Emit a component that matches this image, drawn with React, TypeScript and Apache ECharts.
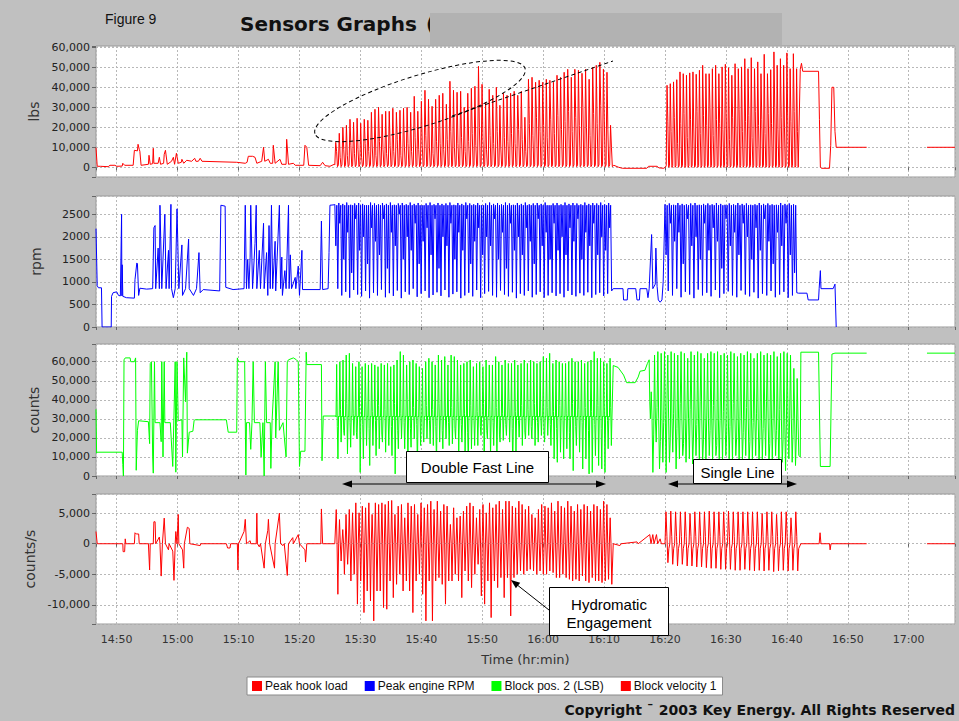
import React, { useEffect, useRef } from "react";
import * as echarts from "echarts";

// ---------- axes ----------
const X_MIN = 886.6; // minutes after midnight (14:46.6)
const X_MAX = 1027.6; // 17:07.6
const SERIES_NAMES = ["Peak hook load", "Peak engine RPM", "Block pos. 2 (LSB)", "Block velocity 1"];
const AXIS_NAMES = ["lbs", "rpm", "counts", "counts/s"];
const Y_MIN = [-4860, 0, 0, -13150];
const Y_MAX = [60650, 2905, 69300, 8150];
const Y_STEP = [10000, 500, 10000, 5000];

type Pt = [number, number | string];

// ---------- Peak hook load (lbs) ----------
const hookEarly: Pt[] = [[886.6,9800],[886.8,500],[887.3,500],[888.6,300],[888.9,1000],[889.7,1000],[890.0,500],[890.9,600],[891.0,2000],[891.3,1000],[892.7,1000],[892.9,8500],[893.4,8200],[893.5,11500],[893.7,9000],[893.8,8000],[894.0,1000],[895.2,1500],[895.3,6000],[895.5,1500],[895.9,1800],[896.0,9500],[896.1,2000],[896.8,2000],[897.0,5000],[897.2,1500],[897.7,2000],[897.8,6500],[898.0,8500],[898.3,1500],[899.0,3000],[899.3,5000],[899.5,1500],[899.8,7000],[900.1,2000],[900.6,2500],[900.7,4000],[901.0,2000],[901.5,3500],[902.3,3000],[902.8,4500],[903.0,3000],[903.4,3000],[903.7,4500],[904.0,3000],[909.7,2500],[911.1,2000],[911.4,2500],[911.6,5500],[912.3,5500],[912.7,5000],[913.0,2000],[913.8,3000],[914.1,10000],[914.3,3000],[914.9,4000],[915.2,2000],[915.6,2000],[915.7,11000],[916.0,2000],[916.8,4000],[917.1,1500],[917.8,1500],[917.9,14000],[918.2,1500],[919.0,2000],[919.3,1000],[920.7,1000],[920.9,11000],[921.2,10000],[921.5,1000],[923.4,800],[923.8,2500],[924.2,800],[925.0,500],[925.7,1500]];
const hookPeaks1 = [12500,17000,20000,21000,24000,22500,24500,22000,24000,23500,27500,29000,30000,26500,28000,28000,29500,27500,28500,29500,30000,27500,35500,28000,33000,38500,34000,30500,34000,36000,37000,31500,43000,38500,37500,38000,30000,37000,39500,40500,50500,41500,32500,39000,36000,40000,31000,37000,36000,37000,38000,36000,38000,25000,44000,45000,42500,43500,42500,44000,43500,42500,46000,45000,47500,49000,45000,49000,48500,47000,49000,44000,50000,51000,52500,49000,47500,21000];
const hookMids1 = [8000,5000,9000,6000,11000,7000,9000,5000,12000,8000,10000,6000,13000,9000,7000,11000,8000,14000,6000,10000,12000,8000,15000,9000,11000,16000,10000,7000,13000,12000,9000,14000,18000,10000,12000,15000,8000,13000,17000,11000,20000,14000,9000,16000,12000,18000,10000,15000,13000,17000,12000,19000,14000,8000,22000,16000,25000,18000,21000,15000,24000,17000,26000,19000,23000,28000,18000,25000,21000,30000,20000,16000,27000,22000,31000,24000,19000,10000];
const hookGap: Pt[] = [[971.6,1000],[972.4,0],[973.0,-500],[977.0,-500],[977.3,500],[978.7,500],[979.0,-300],[979.8,-500],[980.1,200]];
const hookPeaks2 = [41000,41800,42700,43800,47700,46800,46000,47200,47700,46500,48500,51000,46800,46800,49300,51000,46800,50200,51500,49800,46000,51800,49300,50200,54300,49300,54800,49300,52700,46800,56500,46800,48800,57700,51000,54300,51000,57200,49300,56800,49300];
const hookMids2 = [23000,18000,25000,12000,22000,27000,15000,24000,20000,28000,17000,26000,21000,30000,16000,24000,22000,19000,27000,14000,25000,20000,29000,18000,23000,26000,15000,28000,21000,24000,17000,27000,22000,30000,19000,25000,20000,26000,23000,28000,18000];
const hookTail: Pt[] = [[1002.2,49000],[1002.4,52000],[1002.6,48000],[1005.2,48000],[1005.35,24000],[1005.5,0],[1005.7,-500],[1007.0,-500],[1007.2,11000],[1007.4,40000],[1007.7,40000],[1007.9,18000],[1008.1,10000],[1013.1,10000],[1018,"-"],[1023.0,10000],[1027.6,10000]];

// ---------- Peak engine RPM ----------
const rpmEarly: Pt[] = [[886.6,2180],[886.7,2180],[886.8,915],[887.0,870],[887.5,870],[887.6,0],[889.1,0],[889.15,680],[889.4,760],[890.0,780],[890.3,700],[890.6,690],[890.8,2500],[890.85,690],[890.9,1380],[891.0,680],[891.6,650],[892.9,640],[893.0,1050],[893.3,1420],[893.4,1400],[893.6,700],[893.8,860],[894.9,840],[895.9,850],[896.1,2200],[896.3,2250],[896.4,850],[896.8,1750],[897.0,850],[897.1,2700],[897.3,1500],[897.4,850],[897.9,2500],[898.1,850],[898.5,1700],[898.6,850],[898.9,2720],[899.0,850],[899.3,650],[899.6,850],[899.9,2620],[900.2,850],[900.7,1820],[900.8,700],[901.3,850],[901.8,1950],[901.9,850],[902.6,700],[903.1,850],[903.5,1650],[903.7,760],[904.2,830],[906.9,800],[907.1,2700],[907.8,2680],[907.9,880],[909.1,830],[910.9,850],[911.1,2700],[911.3,850],[911.5,1500],[911.7,850],[911.9,1550],[912.0,2700],[912.3,850],[912.7,1850],[912.9,2700],[913.0,850],[913.4,1700],[913.6,850],[914.1,2300],[914.2,850],[914.6,1650],[914.8,700],[915.0,2250],[915.2,850],[915.4,2700],[915.6,850],[916.0,1900],[916.1,800],[916.7,2700],[916.9,850],[917.1,1550],[917.2,700],[917.6,1250],[917.8,850],[918.2,2700],[918.3,850],[918.5,1600],[918.7,850],[919.3,1100],[919.4,850],[919.8,1350],[920.0,700],[920.4,1700],[920.5,830],[923.4,830],[923.6,2350],[923.8,830],[924.7,850],[924.85,1650],[925.0,2700],[925.7,2710]];
const rpmHi1 = [2720,2750,2730,2760,2710,2740,2750,2730,2700,2760,2740,2720,2750,2730,2760,2710,2740,2750,2720,2760,2730,2750,2700,2740,2760,2720,2750,2730,2740,2760,2710,2750,2730,2760,2740,2720,2750,2700,2740,2760,2730,2750,2720,2760,2740,2710,2750,2730,2760,2720,2740,2750,2730,2760,2700,2740,2750,2720,2760,2730,2750,2740,2720,2760,2730,2750,2740,2760,2720,2750];
const rpmMid1 = [1800,2300,1500,2100,1200,2400,1700,2000,1400,2200,1900,1600,2400,1300,2100,1800,2500,1500,2000,1700,2300,1400,1900,2200,1600,2400,1300,2000,1800,2300,1500,2100,1700,2400,1400,1900,2200,1600,2000,1800,2400,1500,2100,1300,2300,1700,2000,1600,2200,1900,1400,2400,1800,2100,1500,2300,1700,2000,1600,2200,1900,2400,1500,2100,1800,2300,1600,2000,1700,2200];
const rpmLo1 = [850,700,780,650,820,720,680,800,640,760,700,830,660,750,690,810,640,780,720,850,670,740,800,650,710,770,690,820,660,730,780,640,700,760,680,820,650,740,790,700,660,810,720,680,770,640,740,700,800,660,720,780,650,700,760,690,740,660,800,710,680,750,700,770,650,720,760,690,740,800];
const rpmGap: Pt[] = [[971.5,850],[973.1,850],[973.2,600],[973.8,600],[973.9,850],[975.2,850],[975.4,600],[975.8,600],[975.9,850],[977.0,850],[977.2,650],[977.4,850],[977.8,2050],[978.0,850],[978.4,950],[978.5,1750],[978.7,900],[978.9,600],[979.2,550],[979.5,600],[979.7,1000]];
const rpmHi2 = [2720,2740,2710,2750,2730,2720,2740,2750,2710,2730,2740,2720,2750,2730,2710,2740,2720,2750,2730,2740,2710,2720,2750,2730,2740,2720,2710,2750,2730,2740,2720];
const rpmMid2 = [1600,2300,1900,2100,1400,2400,1800,2000,1500,2300,1700,2200,1900,1300,2400,1800,2100,1600,2300,2000,1500,2200,1700,2400,1900,1400,2100,1800,2300,1600,1200];
const rpmLo2 = [800,700,850,660,780,720,640,830,700,760,680,820,650,740,790,700,660,810,720,680,770,640,740,700,800,660,720,780,650,700,760];
const rpmTail: Pt[] = [[1001.9,750],[1003.3,750],[1003.5,600],[1005.2,600],[1005.3,850],[1005.5,1250],[1005.6,850],[1007.6,850],[1007.9,950],[1008.1,0]];

// ---------- Block pos. 2 (counts) ----------
const cntEarly: Pt[] = [[886.6,35000],[886.7,12000],[886.8,12500],[890.9,12500],[891.0,6000],[891.1,0],[891.2,61000],[891.4,62000],[892.2,62000],[892.3,60000],[892.9,60000],[893.1,62000],[893.2,3000],[893.4,24000],[893.6,29000],[895.2,28500],[895.4,17000],[895.5,59000],[895.7,60000],[895.9,10000],[896.0,1500],[896.2,60000],[896.3,28000],[897.1,28000],[897.3,18000],[897.4,60000],[897.6,10000],[897.8,60000],[897.9,28000],[898.8,28000],[899.2,5000],[899.4,32000],[899.6,60000],[899.7,2000],[899.9,60000],[900.1,29000],[900.7,29500],[900.8,10000],[901.0,62000],[901.3,39000],[901.5,65000],[901.6,12000],[901.9,23000],[902.5,23500],[902.7,29000],[902.8,29500],[908.0,29500],[908.3,23000],[909.7,23000],[909.8,62000],[910.0,60000],[911.0,60000],[911.2,500],[911.3,28000],[911.8,28000],[912.0,14000],[912.2,28000],[912.4,60000],[912.6,28000],[913.5,28000],[913.7,10000],[914.0,28000],[914.2,0],[914.4,60000],[914.6,28000],[915.2,28000],[915.3,4000],[915.5,29000],[916.0,60000],[916.1,20000],[916.5,60000],[916.7,24000],[917.3,28000],[917.8,10000],[918.0,60000],[918.2,61000],[919.0,62000],[919.5,61000],[919.8,60000],[920.0,5000],[920.2,13000],[920.9,13000],[921.1,65000],[921.2,58500],[923.6,58500],[923.7,8000],[923.9,31500],[926.0,31500]];
const cntUps1 = [58600,60000,60900,63500,64400,59100,57400,60000,57400,59100,58300,59100,58300,57400,59100,58300,59100,57400,58300,60900,65300,63500,58300,60000,60900,59100,57400,56500,60000,61800,60000,58300,63500,60900,62700,58300,63500,62700,60900,58300,59100,60000,60900,57400,59100,60000,57400,60900,58300,58300,62700,60000,58300,60900,59100,59100,60900,58300,59100,60900,59100,60900,60000,59100,60000,62700,61800,64400,59100,60900,60000,59100,59100,60000,61800,60000,60000,60900,59100,60000,60900,65300,61800,61800,60000,59100,61800];
const cntDowns1 = [9000,17800,21300,11600,15100,21300,19500,1900,9000,16000,5500,16000,10700,14300,17800,12500,16000,10700,1100,14300,19500,14300,3700,15100,19500,3700,16000,17800,19500,16900,16000,5500,17800,14300,19500,16000,16900,19500,12500,17800,12500,7200,14300,16000,16000,21300,4600,19500,10700,16000,9000,17800,18700,21300,17800,4600,12500,20400,16000,19500,21300,19500,16000,17800,21300,17800,21300,16000,9000,7200,12500,9000,14300,9000,2800,16000,12500,3700,9000,1100,1900,10700,5500,3700,1900,14300,16000];
const cntWig1 = [26000,35000,24000,38000,28000,33000,23000,36000,27000,39000,25000,34000,29000,37000,22000,35000,30000,26000,38000,24000,33000,28000,40000,25000,36000,27000,34000,23000,37000,29000,35000,26000,38000,24000,32000,28000,36000,25000,39000,27000,33000,23000,37000,29000,34000,26000,38000,24000,35000,28000,36000,22000,33000,27000,39000,25000,34000,29000,37000,23000,35000,26000,38000,28000,32000,24000,36000,27000,34000,25000,37000,29000,33000,23000,38000,26000,35000,28000,36000,24000,34000,27000,37000,25000,33000,29000,36000];
const cntGap: Pt[] = [[971.5,58000],[972.3,57000],[973.2,53000],[973.7,49000],[975.1,49000],[975.6,52000],[975.9,55000],[976.7,55500],[977.1,59000],[977.4,61000],[977.5,39000]];
const cntUps2 = [44200,63500,65300,64400,65300,63500,65300,64400,63500,65300,64400,61800,65300,63500,65300,64400,61800,64400,65300,64400,65300,63500,64400,63500,65300,64400,62700,64400,63500,65300,64400,61800,64400,65300,63500,64400,63500,65300,62700,64400,65300,64400,63500,56500,51200];
const cntDowns2 = [1900,17800,3700,7200,1900,7200,12500,3700,9000,10700,7200,9000,6300,10700,9000,7200,9000,10700,7200,10700,9000,7200,10700,9000,7200,10700,7200,9000,10700,7200,9000,10700,7200,9000,10700,7200,9000,10700,3700,7200,2800,9000,7200,5500,10700];
const cntMid2 = [30000,22000,36000,18000,28000,40000,20000,33000,25000,38000,17000,30000,35000,21000,27000,39000,19000,32000,24000,37000,16000,29000,34000,22000,26000,38000,20000,31000,23000,36000,18000,28000,33000,21000,25000,39000,17000,30000,24000,35000,19000,27000,32000,22000,20000];
const cntTail: Pt[] = [[1002.2,10000],[1002.3,65000],[1005.2,65000],[1005.5,5000],[1007.1,5000],[1007.4,64000],[1007.9,64500],[1013.1,64500],[1018,"-"],[1023.0,64500],[1027.6,64500]];

// ---------- Block velocity 1 (counts/s) ----------
const velEarly: Pt[] = [[886.6,2000],[886.8,0],[891.0,0],[891.05,-1300],[891.3,-1300],[891.4,800],[891.5,0],[892.9,0],[893.0,1800],[893.2,1600],[893.6,1600],[893.7,0],[895.2,0],[895.4,-4300],[895.5,0],[896.0,0],[896.1,3600],[896.3,3600],[896.4,0],[897.0,1100],[897.1,0],[897.3,-5300],[897.5,0],[897.8,4200],[898.0,0],[898.5,-1000],[898.6,0],[899.2,-1200],[899.4,-6000],[899.6,0],[899.7,2000],[899.9,0],[900.1,4800],[900.2,0],[900.8,-1000],[901.0,-4000],[901.1,0],[901.6,2700],[901.9,2500],[902.0,0],[903.7,-300],[903.8,0],[908.0,0],[908.2,-700],[908.6,-700],[908.7,0],[909.8,0],[909.9,-4300],[910.0,0],[910.9,2000],[911.1,4000],[911.3,0],[911.9,500],[912.0,0],[912.9,0],[913.0,5000],[913.1,0],[913.4,-500],[913.6,0],[914.2,-4000],[914.4,0],[914.8,2200],[914.9,4000],[915.1,0],[915.9,-4000],[916.0,0],[916.7,5000],[916.9,0],[917.3,-300],[917.5,0],[918.0,-5200],[918.2,0],[918.9,1000],[919.0,0],[919.8,1500],[920.0,0],[920.9,-1000],[921.0,-3000],[921.2,0],[923.5,0],[923.6,5700],[923.8,0],[925.8,0]];
const velUps1 = [5600,3960,2320,4800,5620,5070,6700,5070,6160,5890,6700,4800,6700,6430,6700,6430,6980,7090,4800,6160,6430,4250,6700,6160,6430,4800,6700,5890,6430,6980,5620,6980,5340,6430,6160,3160,5890,4250,4530,5340,6160,6700,6160,4250,5620,6430,5070,6700,5890,6430,6980,5620,6980,6980,6160,5890,6980,6430,5620,6160,4800,4250,5620,6430,6160,5890,6700,5340,6980,6160,5890,6980,6160,5340,6430,5620,6430,6160,5340,6430,6160,5620,6980,6430,4250];
const velDowns1 = [-8280,-2830,-5000,-3370,-6100,-5000,-9900,-6100,-11280,-7740,-9370,-12640,-7740,-7740,-10460,-10730,-6100,-8830,-6650,-5000,-7740,-6100,-7740,-11280,-6100,-5000,-8280,-12640,-6100,-12640,-6100,-5550,-6650,-9900,-6100,-6100,-5000,-6100,-8830,-4460,-6100,-7190,-5000,-3370,-8550,-9900,-6100,-12100,-6100,-7190,-5550,-8830,-5550,-11830,-5550,-5000,-4460,-5000,-4460,-4190,-4460,-5000,-4460,-5000,-5000,-4460,-4730,-5550,-5550,-5000,-5550,-5830,-6100,-5830,-6100,-5280,-6100,-6370,-5550,-6100,-6100,-6370,-6100,-5830,-6650];
const velGap: Pt[] = [[971.5,0],[972.6,-300],[972.8,0],[975.4,300],[975.6,0],[977.5,1500],[977.7,0],[978.0,1500],[978.2,0],[978.6,1500],[978.8,0],[979.2,800],[979.4,0]];
const velUps2 = [5230,5340,5230,5230,5230,4960,5230,5230,5230,5340,5230,5230,5230,5340,5230,5230,5230,5230,5230,5230,4960,5230,5230,4800,5230,5230,4250,5230];
const velDowns2 = [-3100,-3370,-3640,-3370,-3640,-3640,-3800,-3800,-3920,-4020,-4020,-4190,-4190,-4190,-4350,-4350,-4190,-4350,-4460,-4350,-4460,-4350,-4570,-4460,-4350,-4460,-4350,-4460];
const velTail: Pt[] = [[1002.3,0],[1005.3,0],[1005.45,1800],[1005.6,0],[1007.0,0],[1007.1,-1000],[1007.25,0],[1013.1,0],[1018,"-"],[1023.0,0],[1027.6,0]];

// spreads one cycle per index between t0 and t1, the values of a cycle in the given order
function cycles(t0: number, t1: number, seqs: (number | number[])[]): Pt[] {
  const n = Math.max(...seqs.map((s) => (Array.isArray(s) ? s.length : 0)));
  const dt = (t1 - t0) / n;
  const out: Pt[] = [];
  for (let i = 0; i < n; i++) {
    const vals = seqs.map((s) => (Array.isArray(s) ? s[i] : s));
    vals.forEach((v, j) => out.push([t0 + (i + j / vals.length) * dt, v]));
  }
  return out;
}

const hookData = [...hookEarly, ...cycles(925.8, 971.5, [1200, hookPeaks1, hookMids1, 300]), ...hookGap, ...cycles(980.2, 1002.0, [800, hookPeaks2, hookMids2, 0]), ...hookTail];
const rpmData = [...rpmEarly, ...cycles(925.8, 971.4, [rpmHi1, rpmMid1, 2700, rpmLo1]), ...rpmGap, ...cycles(980.0, 1001.8, [rpmHi2, rpmMid2, 2700, rpmLo2]), ...rpmTail];
const cntData = [...cntEarly, ...cycles(926.0, 971.4, [31000, cntUps1, cntWig1, cntDowns1, 31500]), ...cntGap, ...cycles(977.6, 1002.1, [cntMid2, cntUps2, 30000, cntDowns2]), ...cntTail];
const velData = [...velEarly, ...cycles(925.9, 971.4, [0, velUps1, 0, velDowns1]), ...velGap, ...cycles(980.0, 1002.1, [0, velUps2, 1200, velDowns2, -800]), ...velTail];

const COLORS = ["#ff0000", "#0000ff", "#00ff00", "#ff0000"];
const GRID_TOPS = [46, 196, 344, 494];
const GRID_HEIGHTS = [131, 131, 132, 130];

const FONT = "'DejaVu Sans', Verdana, sans-serif";
const ARIAL = "'Liberation Sans', Arial, sans-serif";

function fmtNum(v: number, withComma: boolean) {
  return withComma ? Math.round(v).toLocaleString("en-US") : String(Math.round(v));
}
function fmtTime(v: number) {
  const h = Math.floor(v / 60);
  const m = Math.round(v - h * 60);
  return `${h}:${String(m).padStart(2, "0")}`;
}

export default function App() {
  const ref = useRef<HTMLDivElement>(null);
  useEffect(() => {
    if (!ref.current) return;
    const chart = echarts.init(ref.current, null, { renderer: "svg" });
    const datasets = [hookData, rpmData, cntData, velData];
    const grid = GRID_TOPS.map((top, i) => ({
      left: 96, top, width: 859, height: GRID_HEIGHTS[i],
      show: true, backgroundColor: "#ffffff", borderColor: "#9a9a9a", borderWidth: 1,
      outerBoundsMode: "none",
    }));
    const splitLine = { show: true, lineStyle: { color: "#b8b8b8", type: [2, 2], width: 1 } };
    const xAxis = GRID_TOPS.map((_, i) => ({
      type: "value", gridIndex: i, min: X_MIN, max: X_MAX, minInterval: 10, maxInterval: 10,
      axisLine: { show: false },
      axisTick: { show: true, length: 3, lineStyle: { color: "#666" } },
      axisLabel: {
        show: i === 3, interval: 0, color: "#333", fontSize: 11, fontFamily: FONT, margin: 10,
        formatter: (v: number) => (Math.abs(v / 10 - Math.round(v / 10)) < 1e-6 ? fmtTime(v) : ""),
      },
      splitLine,
      name: i === 3 ? "Time (hr:min)" : "",
      nameLocation: "middle", nameGap: 29,
      nameTextStyle: { color: "#333", fontSize: 13, fontFamily: FONT },
    }));
    const yAxis = GRID_TOPS.map((_, i) => ({
      type: "value", gridIndex: i, min: Y_MIN[i], max: Y_MAX[i], minInterval: Y_STEP[i], maxInterval: Y_STEP[i],
      axisLine: { show: false },
      axisTick: { show: true, length: 4, lineStyle: { color: "#666" } },
      axisLabel: {
        color: "#222", fontSize: 11, fontFamily: FONT, margin: 6,
        formatter: (v: number) => (Math.abs(v / Y_STEP[i] - Math.round(v / Y_STEP[i])) < 1e-6 ? fmtNum(v, i !== 1) : ""),
      },
      splitLine,
      name: AXIS_NAMES[i], nameLocation: "middle", nameRotate: 90, nameGap: 53,
      nameTextStyle: { color: "#333", fontSize: 14, fontFamily: FONT },
    }));
    const series = datasets.map((d, i) => ({
      type: "line", name: SERIES_NAMES[i], xAxisIndex: i, yAxisIndex: i, data: d,
      showSymbol: false, symbol: "none", color: COLORS[i],
      lineStyle: { width: 1, color: COLORS[i] }, connectNulls: false,
    }));
    const dash = [4, 3];
    const headStyle = { fill: "#000" };
    chart.setOption({
      animation: false,
      backgroundColor: "#c0c0c0",
      grid, xAxis, yAxis, series,
      legend: {
        left: 247, top: 677, data: SERIES_NAMES, icon: "rect", itemWidth: 10, itemHeight: 10, itemGap: 17,
        padding: [3, 6, 3, 5], backgroundColor: "#ffffff", borderColor: "#8a8a8a", borderWidth: 1,
        textStyle: { fontSize: 12, color: "#111", fontFamily: ARIAL, padding: [0, 0, 0, -2] },
      },
      graphic: [
        { type: "text", left: 105, top: 12, style: { text: "Figure 9", fontSize: 14, fontFamily: ARIAL, fill: "#111" } },
        { type: "text", left: 240, top: 14, style: { text: "Sensors Graphs", fontSize: 20, fontWeight: "bold", fontFamily: FONT, fill: "#111" } },
        { type: "text", left: 426, top: 14, style: { text: "(", fontSize: 20, fontWeight: "bold", fontFamily: FONT, fill: "#111" } },
        { type: "rect", shape: { x: 430, y: 13, width: 352, height: 32 }, style: { fill: "#b2b2b2" }, z: 10 },
        { type: "text", right: 4, top: 703, style: { text: "Copyright \u00AF 2003 Key Energy. All Rights Reserved", fontSize: 14, fontWeight: "bold", fontFamily: FONT, fill: "#111" } },
        // ellipse highlight in the hook-load panel
        { type: "ellipse", x: 420, y: 101, rotation: 0.301, shape: { cx: 0, cy: 0, rx: 110, ry: 25.5 }, style: { fill: "none", stroke: "#000", lineWidth: 1, lineDash: dash }, z: 20 },
        { type: "line", shape: { x1: 452, y1: 116, x2: 613, y2: 61 }, style: { stroke: "#000", lineWidth: 1, lineDash: dash }, z: 20 },
        // Double Fast Line
        { type: "line", shape: { x1: 350, y1: 484, x2: 598, y2: 484 }, style: { stroke: "#000", lineWidth: 1 }, z: 20 },
        { type: "polygon", shape: { points: [[342, 484], [352, 480.5], [352, 487.5]] }, style: headStyle, z: 20 },
        { type: "polygon", shape: { points: [[606, 484], [596, 480.5], [596, 487.5]] }, style: headStyle, z: 20 },
        { type: "rect", shape: { x: 406.5, y: 451.5, width: 142, height: 31 }, style: { fill: "#fff", stroke: "#000", lineWidth: 1 }, z: 21 },
        { type: "text", x: 477.5, y: 467, style: { text: "Double Fast Line", fontSize: 15, fontFamily: ARIAL, fill: "#000", align: "center", verticalAlign: "middle" }, z: 22 },
        // Single Line
        { type: "line", shape: { x1: 676, y1: 484, x2: 789, y2: 484 }, style: { stroke: "#000", lineWidth: 1 }, z: 20 },
        { type: "polygon", shape: { points: [[668, 484], [678, 480.5], [678, 487.5]] }, style: headStyle, z: 20 },
        { type: "polygon", shape: { points: [[797, 484], [787, 480.5], [787, 487.5]] }, style: headStyle, z: 20 },
        { type: "rect", shape: { x: 693.5, y: 459.5, width: 88, height: 24 }, style: { fill: "#fff", stroke: "#000", lineWidth: 1 }, z: 21 },
        { type: "text", x: 737.5, y: 472, style: { text: "Single Line", fontSize: 15, fontFamily: ARIAL, fill: "#000", align: "center", verticalAlign: "middle" }, z: 22 },
        // Hydromatic Engagement
        { type: "line", shape: { x1: 549, y1: 610, x2: 516, y2: 584 }, style: { stroke: "#000", lineWidth: 1 }, z: 20 },
        { type: "polygon", shape: { points: [[511, 580], [520.2, 582.8], [515.9, 588.3]] }, style: headStyle, z: 20 },
        { type: "rect", shape: { x: 549.5, y: 587.5, width: 119, height: 48 }, style: { fill: "#fff", stroke: "#000", lineWidth: 1 }, z: 21 },
        { type: "text", x: 609, y: 604, style: { text: "Hydromatic", fontSize: 15, fontFamily: ARIAL, fill: "#000", align: "center", verticalAlign: "middle" }, z: 22 },
        { type: "text", x: 609, y: 622, style: { text: "Engagement", fontSize: 15, fontFamily: ARIAL, fill: "#000", align: "center", verticalAlign: "middle" }, z: 22 },
      ],
    } as any);
    return () => chart.dispose();
  }, []);
  return <div ref={ref} style={{ position: "fixed", left: 0, top: 0, width: 959, height: 721 }} />;
}
